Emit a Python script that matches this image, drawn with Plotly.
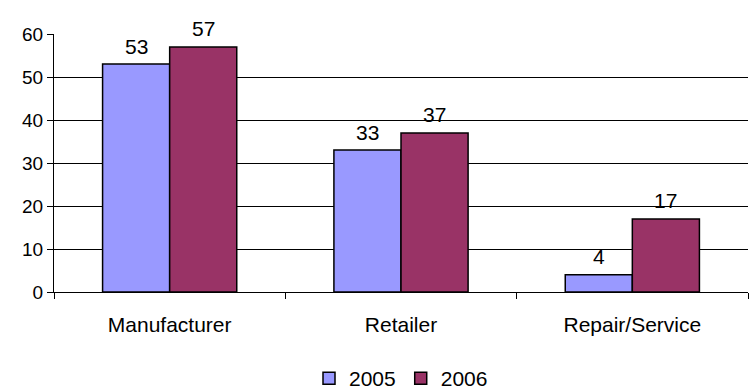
import plotly.graph_objects as go

categories = ["Manufacturer", "Retailer", "Repair/Service"]
values_2005 = [53, 33, 4]
values_2006 = [57, 37, 17]
y_ticks = [0, 10, 20, 30, 40, 50, 60]

x_pos = list(range(len(categories)))
bargap = 0.42
half = (1 - bargap) / 4  # offset of each bar centre from the category centre

fig = go.Figure()
fig.add_trace(go.Bar(
    x=x_pos, y=values_2005, name="2005",
    marker=dict(color="#9999FF", line=dict(color="black", width=1.5)),
))
fig.add_trace(go.Bar(
    x=x_pos, y=values_2006, name="2006",
    marker=dict(color="#993366", line=dict(color="black", width=1.5)),
))

annotations = []
for vals, off in ((values_2005, -half), (values_2006, half)):
    for xi, v in zip(x_pos, vals):
        annotations.append(dict(
            x=xi + off, y=v, xref="x", yref="y", text=str(v),
            showarrow=False, yanchor="middle", yshift=18,
            font=dict(size=21, color="black"),
        ))

fig.update_layout(
    width=753, height=391,
    margin=dict(l=54, r=5, t=34, b=99, autoexpand=False),
    paper_bgcolor="white", plot_bgcolor="white",
    font=dict(family="Liberation Sans, Arial", size=19, color="black"),
    barmode="group", bargap=bargap, bargroupgap=0,
    showlegend=True,
    annotations=annotations,
    legend=dict(orientation="h", x=0.5, xanchor="center", y=-0.415, yanchor="bottom",
                font=dict(size=21), itemwidth=30, traceorder="normal"),
    xaxis=dict(
        range=[-0.5, 2.5], tickvals=x_pos, ticktext=categories,
        tickfont=dict(size=21),
        showline=True, linecolor="black", linewidth=1,
        ticks="", showgrid=False, zeroline=False,
        ticklabelstandoff=14,
        minor=dict(tickvals=[-0.5, 0.5, 1.5, 2.5], ticks="outside", ticklen=6,
                   tickcolor="black", showgrid=False),
    ),
    yaxis=dict(
        range=[0, 60], tickvals=y_ticks,
        showline=True, linecolor="black", linewidth=1,
        ticks="outside", ticklen=6, tickcolor="black",
        showgrid=True, gridcolor="black", gridwidth=1,
        zeroline=False,
    ),
)

fig.write_html("out.html")
